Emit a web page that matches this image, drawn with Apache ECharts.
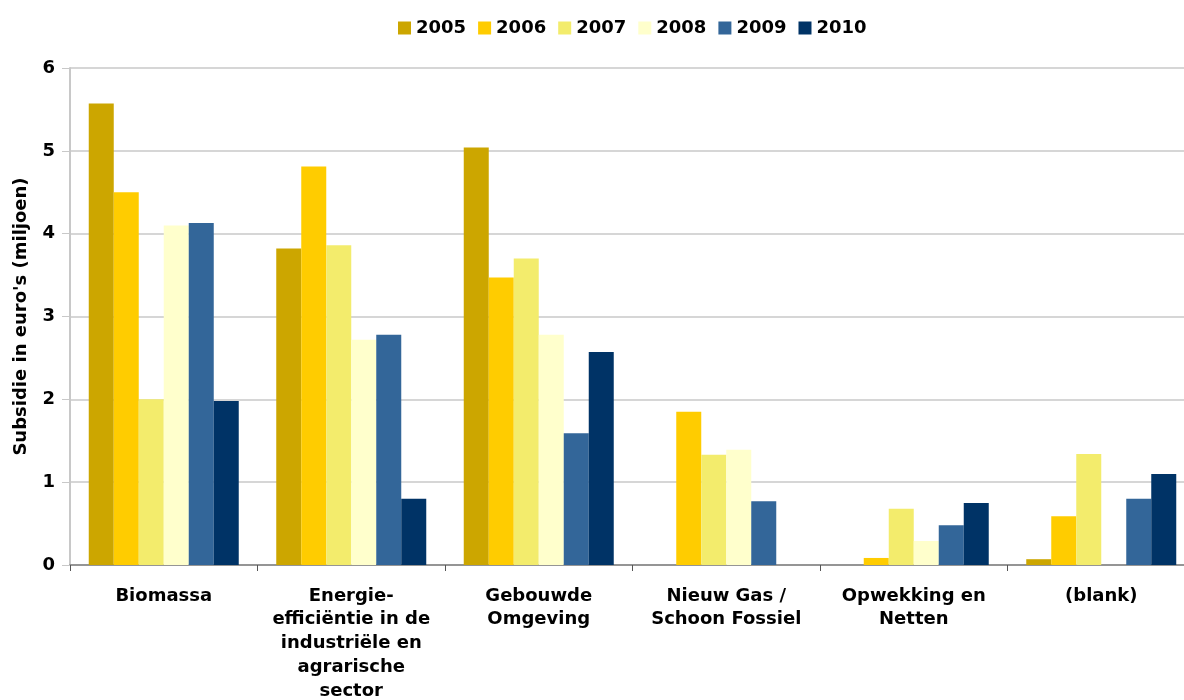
<!DOCTYPE html>
<html>
<head>
<meta charset="utf-8">
<script src="https://cdn.jsdelivr.net/npm/echarts@6/dist/echarts.min.js"></script>
<style>
  html, body { margin: 0; padding: 0; background: #fff; overflow: hidden; }
  #chart { width: 1184px; height: 700px; }
</style>
</head>
<body>
<div id="chart"></div>
<script>
// Subsidie per thema en jaar (miljoen euro)
const categories = [
  'Biomassa',
  'Energie-\nefficiëntie in de\nindustriële en\nagrarische\nsector',
  'Gebouwde\nOmgeving',
  'Nieuw Gas /\nSchoon Fossiel',
  'Opwekking en\nNetten',
  '(blank)'
];
const years = ['2005', '2006', '2007', '2008', '2009', '2010'];
const v2005 = [5.57, 3.82, 5.04, 0, 0, 0.07];
const v2006 = [4.50, 4.81, 3.47, 1.85, 0.085, 0.59];
const v2007 = [2.00, 3.86, 3.70, 1.33, 0.68, 1.34];
const v2008 = [4.10, 2.72, 2.78, 1.39, 0.29, 0];
const v2009 = [4.13, 2.78, 1.59, 0.77, 0.48, 0.80];
const v2010 = [1.98, 0.80, 2.57, 0, 0.75, 1.10];
const yTicks = [0, 1, 2, 3, 4, 5, 6];

const colors = ['#CCA600', '#FFCC00', '#F3EC6C', '#FFFFCC', '#336699', '#003366'];
const seriesValues = [v2005, v2006, v2007, v2008, v2009, v2010];
const fontFamily = '"DejaVu Sans", Verdana, sans-serif';

const chart = echarts.init(document.getElementById('chart'), null, { renderer: 'canvas' });
chart.setOption({
  animation: false,
  color: colors,
  textStyle: { fontFamily: fontFamily },
  legend: {
    top: 14,
    left: 393,
    itemWidth: 13,
    itemHeight: 13,
    itemGap: 12,
    icon: 'rect',
    textStyle: { fontFamily: fontFamily, fontWeight: 'bold', fontSize: 18, color: '#000' },
    data: years
  },
  grid: {
    left: 70, width: 1125, top: 68, height: 497,
    containLabel: false,
    outerBoundsMode: 'none'
  },
  xAxis: {
    type: 'category',
    data: categories,
    axisLine: { lineStyle: { color: '#808080', width: 1.5 } },
    axisTick: { show: true, length: 6, lineStyle: { color: '#555' } },
    axisLabel: {
      interval: 0,
      margin: 19,
      fontFamily: fontFamily,
      fontWeight: 'bold',
      fontSize: 18,
      color: '#000',
      lineHeight: 23.8,
      align: 'center'
    }
  },
  yAxis: {
    type: 'value',
    min: yTicks[0],
    max: yTicks[yTicks.length - 1],
    interval: 1,
    name: "Subsidie in euro's (miljoen)",
    nameLocation: 'middle',
    nameGap: 40,
    nameRotate: 90,
    nameTextStyle: { fontFamily: fontFamily, fontWeight: 'bold', fontSize: 18, color: '#000' },
    axisLine: { show: true, lineStyle: { color: '#c8c8c8', width: 2 } },
    axisTick: { show: true, length: 8, lineStyle: { color: '#c8c8c8' } },
    axisLabel: { fontFamily: fontFamily, fontWeight: 'bold', fontSize: 18, color: '#000', margin: 15 },
    splitLine: { lineStyle: { color: '#c8c8c8', width: 1.5 } }
  },
  series: years.map((y, i) => ({
    name: y,
    type: 'bar',
    data: seriesValues[i],
    barGap: '0%',
    barCategoryGap: '20%',
    itemStyle: { color: colors[i] }
  }))
});
</script>
</body>
</html>
